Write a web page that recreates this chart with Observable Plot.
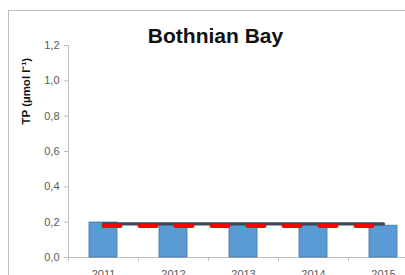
<!DOCTYPE html>
<html>
<head>
<meta charset="utf-8">
<script src="https://cdn.jsdelivr.net/npm/d3@7"></script>
<script src="https://cdn.jsdelivr.net/npm/@observablehq/plot@0.6"></script>
<style>
  html, body { margin: 0; padding: 0; background: #fff; overflow: hidden; }
  #wrap { position: relative; width: 405px; height: 275px; overflow: hidden; }
  #border { position: absolute; left: 8px; top: 10px; width: 600px; height: 600px;
            border-top: 1px solid #bdbdbd; border-left: 1px solid #bdbdbd; }
  #chart { position: absolute; left: 0; top: 0; }
</style>
</head>
<body>
<div id="wrap"><div id="border"></div><div id="chart"></div></div>
<script>
// Data
const title = "Bothnian Bay";
const yLabel = "TP (µmol l⁻¹)";
const years = [2011, 2012, 2013, 2014, 2015];
const tpValues = [0.198, 0.185, 0.185, 0.182, 0.180];
const refLevel = [0.19, 0.19, 0.19, 0.19, 0.19];      // dark line
const targetLevel = [0.178, 0.178, 0.178, 0.178, 0.178]; // red dashed line
const yTicks = [0, 0.2, 0.4, 0.6, 0.8, 1.0, 1.2];
const catBounds = [2010.5, 2011.5, 2012.5, 2013.5, 2014.5, 2015.5];

const bars = years.map((y, i) => ({year: y, value: tpValues[i]}));
const refData = years.map((y, i) => ({year: y, value: refLevel[i]}));
const tgtData = years.map((y, i) => ({year: y, value: targetLevel[i]}));

const fmt = d => d3.format(".1f")(d).replace(".", ",");
const font = "'Liberation Sans', Arial, sans-serif";

const chart = Plot.plot({
  width: 420,
  height: 275,
  marginLeft: 68,
  marginRight: 2,
  marginTop: 45,
  marginBottom: 18,
  style: {background: "transparent", maxWidth: "none", fontFamily: font, overflow: "visible"},
  x: {type: "linear", domain: [2010.5, 2015.5], axis: null},
  y: {domain: [0, 1.2], axis: null},
  marks: [
    Plot.axisY({ticks: yTicks, tickFormat: fmt, tickSize: 4, tickPadding: 5,
      fill: "#595959", stroke: "#bdbdbd", fontSize: 11, label: null}),
    Plot.axisX({ticks: catBounds, tickFormat: () => "", tickSize: 4,
      stroke: "#bdbdbd", label: null}),
    Plot.ruleX([2010.5], {y1: 0, y2: 1.2, stroke: "#bdbdbd"}),
    Plot.ruleY([0], {stroke: "#bdbdbd"}),
    Plot.rect(bars, {x1: d => d.year - 0.2, x2: d => d.year + 0.2, y1: 0, y2: "value",
      fill: "#5b9bd5", stroke: "#41719c", strokeWidth: 0.8}),
    Plot.line(refData, {x: "year", y: "value", stroke: "#3b4859", strokeWidth: 3.3,
      strokeLinecap: "round"}),
    Plot.line(tgtData, {x: "year", y: "value", stroke: "#ff0000", strokeWidth: 4,
      strokeLinecap: "round", strokeDasharray: "17,19"}),
    Plot.text(years, {x: d => d, frameAnchor: "bottom", dy: 17, lineAnchor: "middle",
      text: d => String(d), fill: "#595959", fontSize: 11}),
    Plot.text([title], {frameAnchor: "top", dx: -28, dy: -9, lineAnchor: "middle",
      fontSize: 21, fontWeight: "bold", fill: "#111"}),
    Plot.text([yLabel], {frameAnchor: "left", rotate: -90, dx: -42, dy: -27,
      lineAnchor: "middle", fontSize: 11.5, fontWeight: "bold", fill: "#111"})
  ]
});
document.getElementById("chart").appendChild(chart);
</script>
</body>
</html>
